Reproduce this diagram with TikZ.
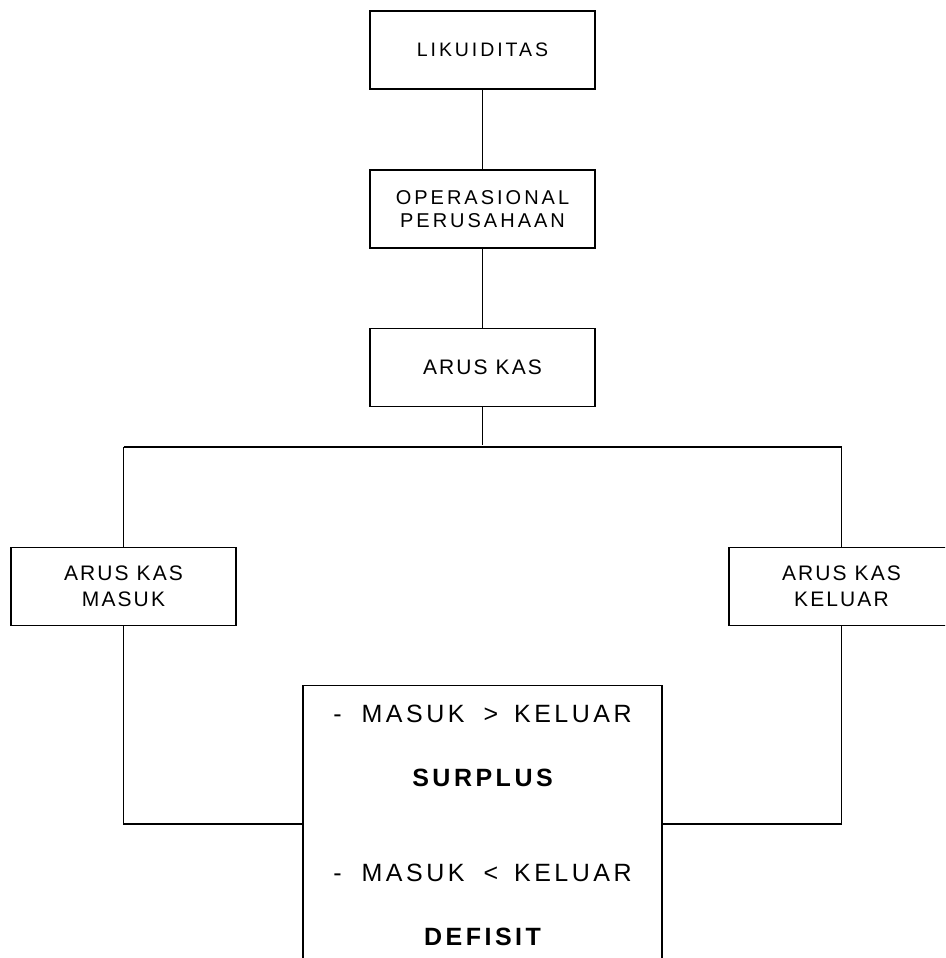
\documentclass[tikz,border=0pt]{standalone}
\usepackage{fontspec}
\setmainfont{Liberation Sans}
\newfontfamily\boxfont[LetterSpace=15]{Liberation Sans}
\newfontfamily\midfont[LetterSpace=10]{Liberation Sans}
\newfontfamily\bigfont[LetterSpace=14]{Liberation Sans}
\begin{document}
\begin{tikzpicture}[x=1pt,y=-1pt,
  box/.style={draw, line width=1.4pt, minimum width=225pt, minimum height=78pt, inner sep=0pt,
    align=center, font=\fontsize{19.5}{23.5}\selectfont\boxfont},
  midbox/.style={box, font=\fontsize{21}{26.5}\selectfont\midfont},
  bigbox/.style={draw, line width=1.4pt, minimum width=359pt, minimum height=330pt, inner sep=0pt},
  bigtext/.style={inner sep=0pt, font=\fontsize{25}{30}\selectfont\bigfont},
  boldtext/.style={inner sep=0pt, font=\fontsize{25}{30}\selectfont\bigfont\bfseries},
  conn/.style={line width=1.4pt}]
\clip (0,0) rectangle (945,958);
\node[box] (liq) at (482.5,50) {LIKUIDITAS};
\node[box, font=\fontsize{20}{23.5}\selectfont\boxfont] (ops) at (482.5,209) {OPERASIONAL\\PERUSAHAAN};
\node[midbox] (arus) at (482.5,367.5) {ARUS KAS};
\node[midbox] (masuk) at (123.5,586.5) {ARUS KAS\\MASUK};
\node[midbox] (keluar) at (841.5,586.5) {ARUS KAS\\KELUAR};
\node[bigbox, anchor=north] (hasil) at (482.5,685) {};
\node[bigtext] (t1) at (482.5,714) {-\hspace{20pt}MASUK\hspace{19pt}>\hspace{16pt}KELUAR};
\node[boldtext] (t2) at (482.5,778) {SURPLUS};
\node[bigtext] (t3) at (482.5,873) {-\hspace{20pt}MASUK\hspace{19pt}<\hspace{16pt}KELUAR};
\node[boldtext] (t4) at (482.5,937) {DEFISIT};
\coordinate (jc) at (482.5,447);
\coordinate (jl) at (123.5,447);
\coordinate (jr) at (841.5,447);
\coordinate (bl) at (123.5,824);
\coordinate (br) at (841.5,824);
\draw[conn] (liq) -- (ops);
\draw[conn] (ops) -- (arus);
\draw[conn] (arus.south) -- ([yshift=2pt]jc);
\draw[conn] (jl) -- (jr);
\draw[conn] (jl) -- (masuk.north);
\draw[conn] (jr) -- (keluar.north);
\draw[conn] (masuk.south) -- (bl) -- (hasil.west |- bl);
\draw[conn] (keluar.south) -- (br) -- (hasil.east |- br);
\end{tikzpicture}
\end{document}
